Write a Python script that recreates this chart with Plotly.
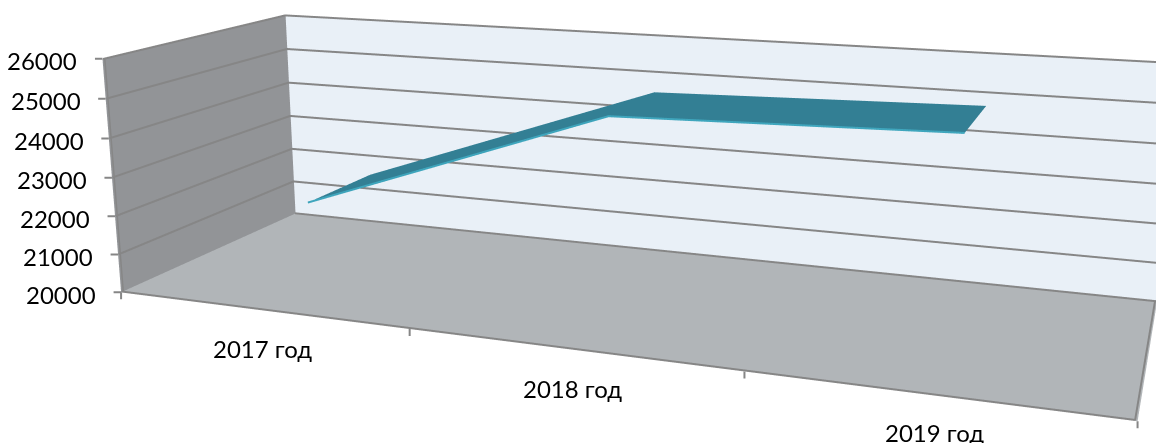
import plotly.graph_objects as go

categories = ["2017 год", "2018 год", "2019 год"]
values = [22140, 24960, 25160]
z_ticks = [20000, 21000, 22000, 23000, 24000, 25000, 26000]
ribbon_depth = [0.29, 0.68]
category_positions = [0.5, 1.5, 2.5]
band_edges = [0, 1, 2, 3]

W, H = 1164, 1350
GRID = "#868686"
TEXT = dict(family="Lato", size=24, color="#000")
TINY = dict(size=1)

fig = go.Figure()
xr = [x for x in category_positions for _ in ribbon_depth]
yr = ribbon_depth * 3
zr = [v for v in values for _ in ribbon_depth]
fig.add_trace(go.Mesh3d(x=xr, y=yr, z=zr, i=[0, 1, 2, 3], j=[1, 3, 3, 5], k=[2, 2, 4, 4], color="#337f94",
                        lighting=dict(ambient=1, diffuse=0, specular=0, fresnel=0), hoverinfo="skip"))
fig.add_trace(go.Scatter3d(x=category_positions, y=[ribbon_depth[0]] * 3, z=values, mode="lines",
                           line=dict(color="#3fa6bd", width=4), hoverinfo="skip"))


def ln(x, y, z, w=4):
    fig.add_trace(go.Scatter3d(x=x, y=y, z=z, mode="lines", line=dict(color=GRID, width=w), hoverinfo="skip"))


zmin, zmax = z_ticks[0], z_ticks[-1]
xmin, xmax = band_edges[0], band_edges[-1]
# edge lines sit a hair inside the box, since 3D lines on its very boundary get clipped away
y_in, x_in, z_in = 0.003, 0.006, 12
for t in z_ticks[1:]:
    ln([xmin, xmin, xmax], [y_in, 1 - y_in, 1 - y_in], [t, t, t] if t < zmax else [t - z_in] * 3)
ln([xmin, xmax], [1 - y_in, 1 - y_in], [zmin + z_in, zmin + z_in])
ln([xmin, xmax - x_in, xmax - x_in], [y_in, y_in, 1], [zmin + z_in] * 3)
ln([xmin + x_in, xmin + x_in], [y_in, y_in], [zmin, zmax], 3)

ann = []
for x, c, dy in zip(category_positions, categories, [-39, -39, -37]):
    ann.append(dict(x=x, y=0, z=zmin, text=c, showarrow=False, xshift=2, yshift=dy, font=TEXT))
for e in band_edges:
    ann.append(dict(x=e, y=0, z=zmin, text=" ", font=TINY, showarrow=True, ax=0, ay=9, arrowhead=0, arrowwidth=2, arrowcolor=GRID))
for t in z_ticks:
    ann.append(dict(x=xmin, y=0, z=t, text=" ", font=TINY, showarrow=True, ax=-9, ay=0, arrowhead=0, arrowwidth=2, arrowcolor=GRID))
    ann.append(dict(x=xmin, y=0, z=t, text=str(t), showarrow=False, xanchor="right", xshift=-23, yshift=-2, font=TEXT))

ax = dict(showspikes=False, showline=False, zeroline=False, title="", showgrid=False, showticklabels=False, ticks="")
fig.update_layout(
    width=W, height=H, margin=dict(l=0, r=0, t=0, b=0), paper_bgcolor="white", showlegend=False,
    scene=dict(
        domain=dict(x=[0, 1], y=[0, 1]), aspectmode="manual",
        aspectratio=dict(x=1, y=0.34452, z=0.24323),
        camera=dict(eye=dict(x=0.53216, y=-1.49748, z=0.38067),
                    center=dict(x=-0.03762, y=-0.02445, z=-0.03895),
                    up=dict(x=-0.09045, y=0.24033, z=0.96647),
                    projection=dict(type="perspective")),
        annotations=ann,
        xaxis=dict(ax, range=[xmin, xmax], showbackground=True, backgroundcolor="#929497"),
        yaxis=dict(ax, range=[0, 1], showbackground=True, backgroundcolor="#e9f0f7"),
        zaxis=dict(ax, range=[zmin, zmax], showbackground=True, backgroundcolor="#b1b5b8"),
    ),
)
# Plotly's 3D view has a fixed 45-degree lens tied to the scene height; the tall scene gives the
# reference's narrow lens, and the page is shifted so that the view's centre falls on the window.
top = 8 - (H / 2 + 8 - 221)
fig.write_html("out.html", config={"displayModeBar": False},
               post_script=f"document.documentElement.style.overflow='hidden';document.body.style.marginTop='{top}px';")
